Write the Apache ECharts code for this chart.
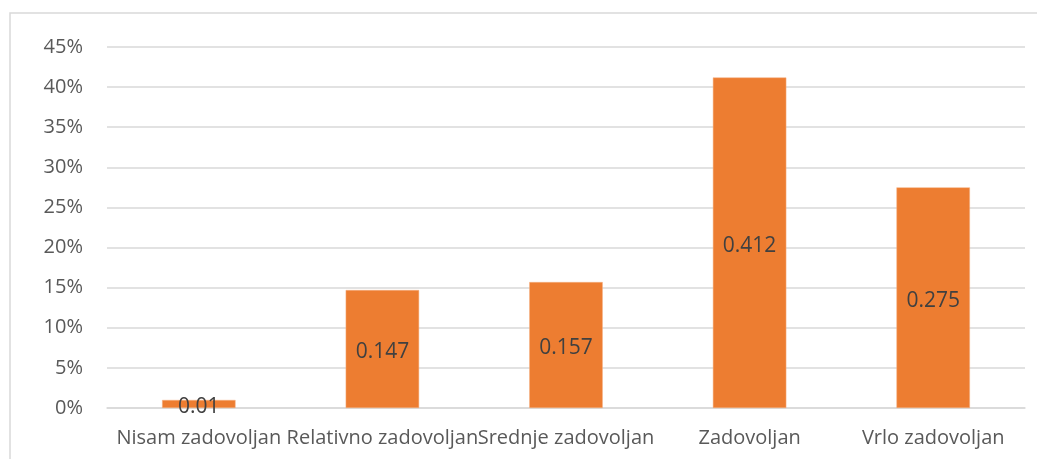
<!DOCTYPE html>
<html>
<head>
<meta charset="utf-8">
<script src="https://cdn.jsdelivr.net/npm/echarts@6/dist/echarts.min.js"></script>
<style>
	html, body { margin: 0; padding: 0; background: #fff; }
	#main { width: 1037px; height: 459px; }
</style>
</head>
<body>
<div id="main"></div>
<script>
var categories = ['Nisam zadovoljan', 'Relativno zadovoljan', 'Srednje zadovoljan', 'Zadovoljan', 'Vrlo zadovoljan'];
var values = [0.01, 0.147, 0.157, 0.412, 0.275];
var yTicks = [0, 0.05, 0.10, 0.15, 0.20, 0.25, 0.30, 0.35, 0.40, 0.45];

var myChart = echarts.init(document.getElementById('main'));
var font = 'Open Sans';
var option = {
	animation: false,
	backgroundColor: '#fff',
	// okvir grafa
	graphic: [{
		type: 'polyline',
		shape: { points: [[10, 470], [10, 13], [1040, 13]] },
		style: { stroke: '#d9d9d9', lineWidth: 1.5, fill: null },
		silent: true
	}],
	grid: { left: 107, right: 12, top: 47, bottom: 51 },
	xAxis: {
		type: 'category',
		data: categories,
		axisLine: { lineStyle: { color: '#d9d9d9', width: 1.5 } },
		axisTick: { show: false },
		axisLabel: {
			interval: 0,
			color: '#595959',
			fontFamily: font,
			fontSize: 20,
			margin: 20
		}
	},
	yAxis: {
		type: 'value',
		min: yTicks[0],
		max: yTicks[yTicks.length - 1],
		interval: 0.05,
		axisLine: { show: false },
		axisTick: { show: false },
		splitLine: { lineStyle: { color: '#d9d9d9', width: 1.5 } },
		axisLabel: {
			color: '#595959',
			fontFamily: font,
			fontSize: 20,
			margin: 24,
			formatter: function (v) { return Math.round(v * 100) + '%'; }
		}
	},
	series: [{
		type: 'bar',
		data: values,
		barWidth: '40%',
		itemStyle: { color: '#ED7D31', borderColor: '#F4B183', borderWidth: 0.5 },
		label: {
			show: true,
			position: 'inside',
			offset: [0, 3],
			color: '#404040',
			fontFamily: font,
			fontSize: 21,
			formatter: function (p) { return String(p.value); }
		}
	}]
};
myChart.setOption(option);
</script>
</body>
</html>
